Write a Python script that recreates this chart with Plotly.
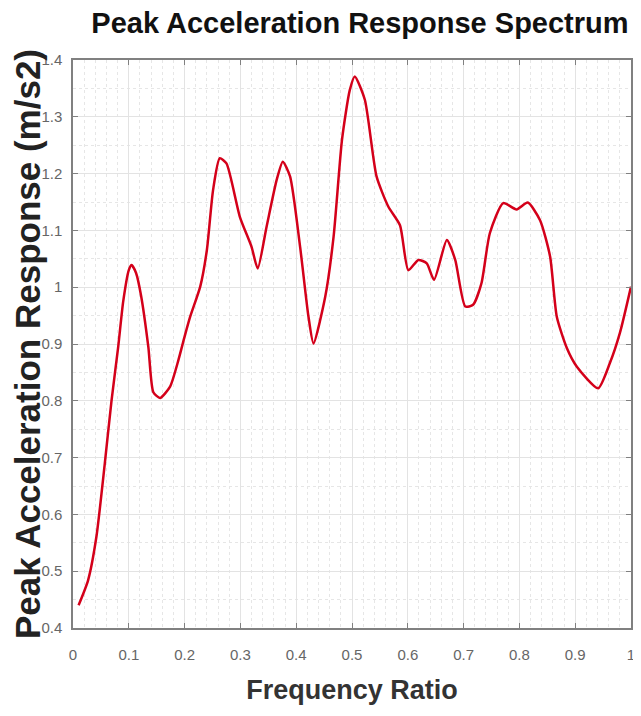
import plotly.graph_objects as go

freq_ratio = [0.01, 0.027, 0.042, 0.057, 0.069, 0.081, 0.09, 0.1, 0.105, 0.113, 0.122, 0.135,
              0.144, 0.156, 0.174, 0.189, 0.2, 0.21, 0.228, 0.24, 0.251, 0.263, 0.275,
              0.299, 0.32, 0.331, 0.347, 0.365, 0.376, 0.389, 0.407, 0.422, 0.431,
              0.452, 0.467, 0.482, 0.496, 0.505, 0.523, 0.544, 0.565, 0.586, 0.601,
              0.619, 0.634, 0.647, 0.67, 0.685, 0.703, 0.717, 0.732, 0.747, 0.771,
              0.795, 0.815, 0.837, 0.855, 0.867, 0.885, 0.903, 0.941, 0.962, 0.98, 1.0]
peak_acc = [0.44, 0.484, 0.561, 0.69, 0.80, 0.895, 0.975, 1.03, 1.039, 1.025, 0.985, 0.895,
            0.815, 0.805, 0.825, 0.872, 0.913, 0.948, 1.001, 1.066, 1.171, 1.227, 1.218,
            1.124, 1.071, 1.033, 1.107, 1.189, 1.221, 1.195, 1.071, 0.948, 0.901,
            0.983, 1.089, 1.259, 1.347, 1.371, 1.33, 1.195, 1.142, 1.109, 1.03,
            1.048, 1.042, 1.013, 1.083, 1.048, 0.966, 0.969, 1.007, 1.095, 1.148,
            1.137, 1.149, 1.118, 1.054, 0.948, 0.893, 0.86, 0.822, 0.866, 0.919, 1.001]

x_ticks = [0, 0.1, 0.2, 0.3, 0.4, 0.5, 0.6, 0.7, 0.8, 0.9, 1]
x_labels = ["0", "0.1", "0.2", "0.3", "0.4", "0.5", "0.6", "0.7", "0.8", "0.9", "1"]
y_ticks = [0.4, 0.5, 0.6, 0.7, 0.8, 0.9, 1.0, 1.1, 1.2, 1.3, 1.4]
y_labels = ["0.4", "0.5", "0.6", "0.7", "0.8", "0.9", "1", "1.1", "1.2", "1.3", "1.4"]

FONT = "Liberation Sans, Arial, sans-serif"

fig = go.Figure()
fig.add_trace(go.Scatter(x=freq_ratio, y=peak_acc, mode="lines",
                         line=dict(color="#d4001a", width=2.5, shape="spline", smoothing=0.6),
                         showlegend=False))

axis_common = dict(
    showline=True, linecolor="#808080", linewidth=1.5, mirror="ticks",
    ticks="inside", ticklen=5, tickcolor="#808080", tickwidth=1,
    showgrid=True, gridcolor="#e3e3e3", gridwidth=1,
    zeroline=False, automargin=False,
    tickfont=dict(family=FONT, size=15, color="#666666"),
)

fig.update_xaxes(range=[0, 1], tickvals=x_ticks, ticktext=x_labels,
                 ticklabelstandoff=12,
                 minor=dict(dtick=0.02, showgrid=True, gridcolor="#e6e6e6", griddash="dot", ticks=""),
                 title=dict(text="<b>Frequency Ratio</b>", standoff=18,
                            font=dict(family=FONT, size=27, color="#333333")),
                 **axis_common)
fig.update_yaxes(range=[0.4, 1.4], tickvals=y_ticks, ticktext=y_labels,
                 ticklabelstandoff=6,
                 minor=dict(dtick=0.05, showgrid=True, gridcolor="#e6e6e6", griddash="dot", ticks=""),
                 title=dict(text="<b>Peak Acceleration Response (m/s2)</b>", standoff=8,
                            font=dict(family=FONT, size=35, color="#222222")),
                 **axis_common)

fig.update_layout(
    width=633, height=708,
    paper_bgcolor="white", plot_bgcolor="white",
    margin=dict(l=65, r=10, t=52, b=88),
    title=dict(text="<b>Peak Acceleration Response Spectrum</b>", x=0.556, xanchor="center",
               y=0.994, yanchor="top",
               font=dict(family=FONT, size=29, color="#111111")),
)

fig.write_html("out.html")
